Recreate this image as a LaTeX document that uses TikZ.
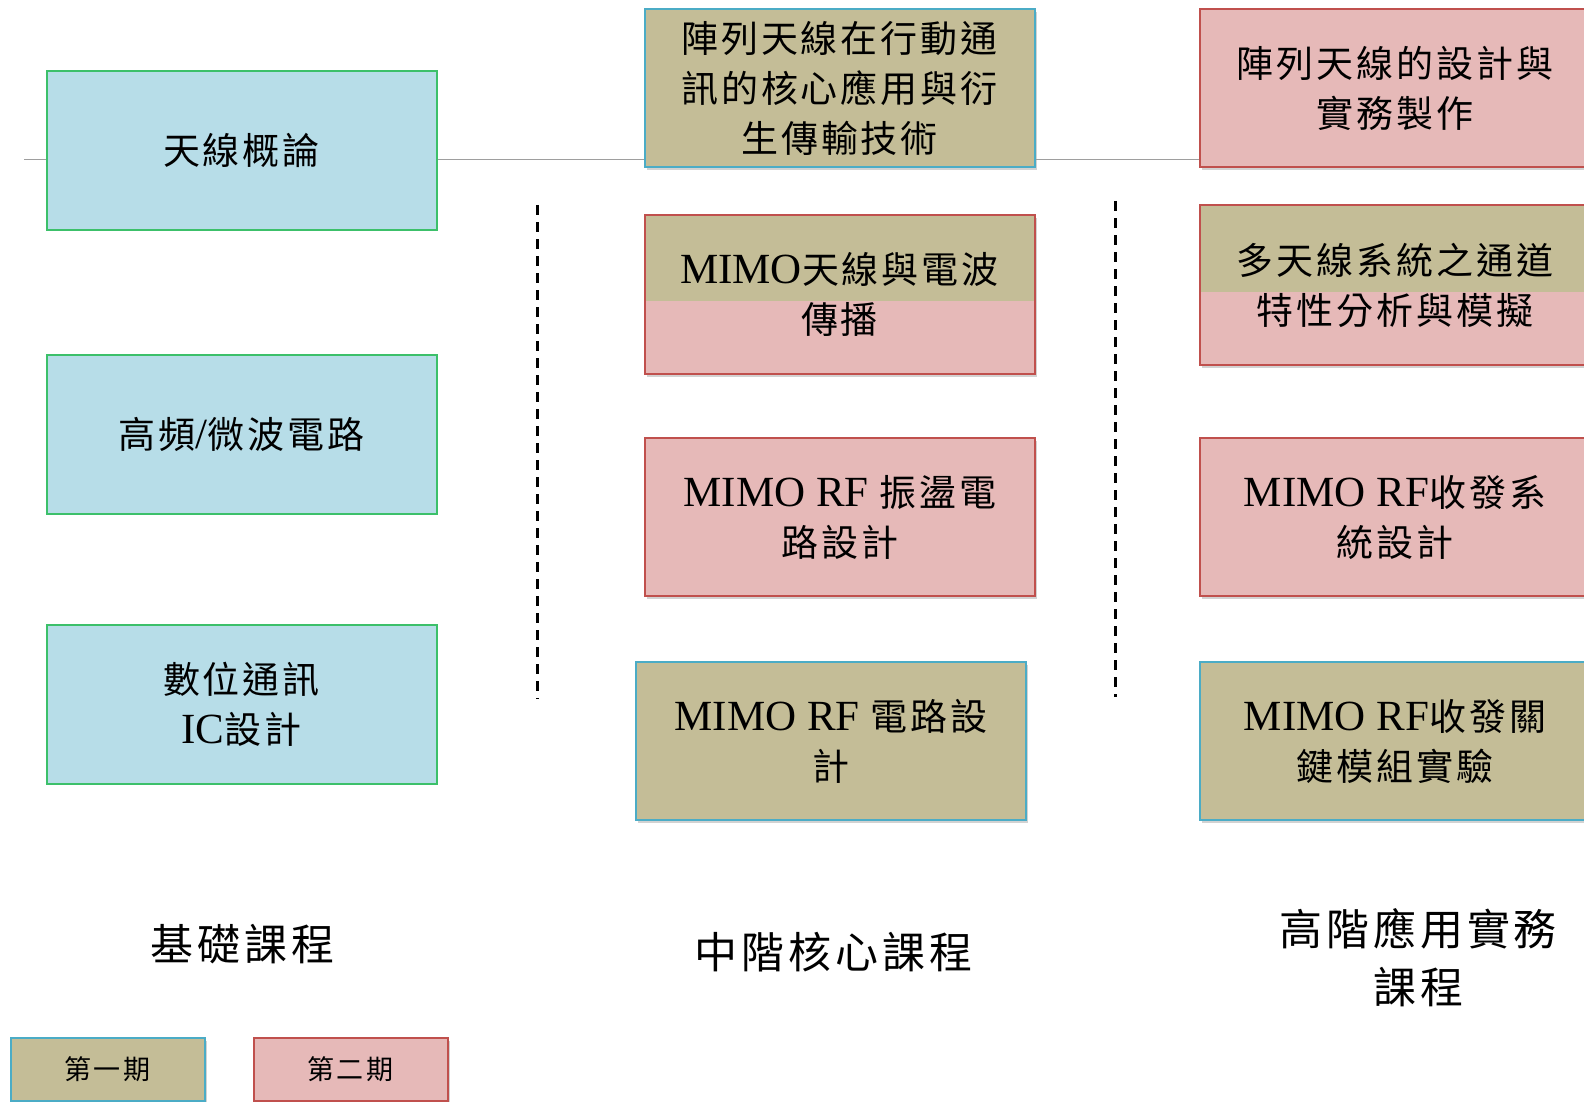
\documentclass[tikz,border=0pt]{standalone}
\usepackage{fontspec}
\setmainfont{Liberation Serif}
\newfontfamily\cj[LetterSpace=8]{Noto Sans CJK TC}
\newfontfamily\cjb[LetterSpace=9]{Noto Sans CJK TC}
\newcommand\Lt[1]{{\rmfamily\LetterSpace\fontsize{43}{50}\selectfont #1}}
\let\LetterSpace\relax
\usetikzlibrary{shadows}
\definecolor{lblue}{HTML}{B7DDE8}
\definecolor{gborder}{HTML}{3CC06A}
\definecolor{olivec}{HTML}{C4BD97}
\definecolor{bborder}{HTML}{4BACC6}
\definecolor{pinkc}{HTML}{E6B9B8}
\definecolor{rborder}{HTML}{C0504D}
\tikzset{
  boxbase/.style={minimum width=390pt, inner sep=0pt, align=center, line width=2pt,
    font=\cj\fontsize{37}{50}\selectfont},
  basebox/.style={boxbase, minimum height=159pt, fill=lblue, draw=gborder},
  shad/.style={drop shadow={shadow xshift=2pt, shadow yshift=-3pt, opacity=0.35}},
  onebox/.style={boxbase, minimum height=158pt, fill=olivec, draw=bborder, shad},
  twobox/.style={boxbase, minimum height=158pt, fill=pinkc, draw=rborder, shad},
  splitbox/.style={boxbase, minimum height=159pt, fill=pinkc, draw=rborder, shad,
    path picture={\fill[olivec] (path picture bounding box.north west) rectangle
      ([yshift=-#1]path picture bounding box.north east);}},
  hline/.style={draw=black!38, line width=1.8pt},
  sepline/.style={draw=black, line width=2.4pt, dash pattern=on 10pt off 7pt},
  lvl/.style={align=center, font=\cjb\fontsize{43}{58}\selectfont},
  legend/.style={inner sep=0pt, minimum width=194pt, minimum height=63pt, line width=2pt,
    font=\cj\fontsize{27}{30}\selectfont, shad}
}
\begin{document}
\begin{tikzpicture}[x=1pt,y=-1pt]
\useasboundingbox (0,0) rectangle (1584,1102);
\fill[white] (0,0) rectangle (1584,1102);
\coordinate (hl) at (24,159.6);
% left column
\node[basebox] (L1) at (241.5,150.5) {天線概論};
\node[basebox] (L2) at (241.5,434.4) {高頻\Lt{/}微波電路};
\node[basebox] (L3) at (241.5,704.1) {數位通訊\\\Lt{IC}設計};
% middle column
\node[onebox] (A) at (839.5,88.4) {陣列天線在行動通\\訊的核心應用與衍\\生傳輸技術};
\node[splitbox=86pt] (B) at (839.5,294) {\Lt{MIMO}天線與電波\\傳播};
\node[twobox] (C) at (840,517.2) {\Lt{MIMO RF }振盪電\\路設計};
\node[onebox] (D) at (830.9,741) {\Lt{MIMO RF }電路設\\計};
% right column
\node[twobox] (R1) at (1395,88.4) {陣列天線的設計與\\實務製作};
\node[splitbox=86pt] (R2) at (1395,285) {多天線系統之通道\\特性分析與模擬};
\node[twobox] (R3) at (1395,517.2) {\Lt{MIMO RF}收發系\\統設計};
\node[onebox] (R4) at (1395,741) {\Lt{MIMO RF}收發關\\鍵模組實驗};
% horizontal line
\draw[hline] (hl) -- (L1.west |- hl);
\draw[hline] (L1.east |- hl) -- (A.west |- hl);
\draw[hline] (A.east |- hl) -- (R1.west |- hl);
% dashed separators
\coordinate (s1a) at (537.4,205);
\coordinate (s1b) at (537.4,699);
\coordinate (s2a) at (1115.3,201);
\coordinate (s2b) at (1115.3,697);
\draw[sepline] (s1a) -- (s1b);
\draw[sepline] (s2a) -- (s2b);
% level labels
\node[lvl] (lv1) at (242.4,944.5) {基礎課程};
\node[lvl] (lv2) at (833.4,952.6) {中階核心課程};
\node[lvl] (lv3) at (1418.3,958) {高階應用實務\\課程};
% legend
\node[legend, fill=olivec, draw=bborder] (g1) at (107.5,1069.5) {第一期};
\node[legend, fill=pinkc, draw=rborder] (g2) at (350.5,1069.5) {第二期};
\end{tikzpicture}
\end{document}
